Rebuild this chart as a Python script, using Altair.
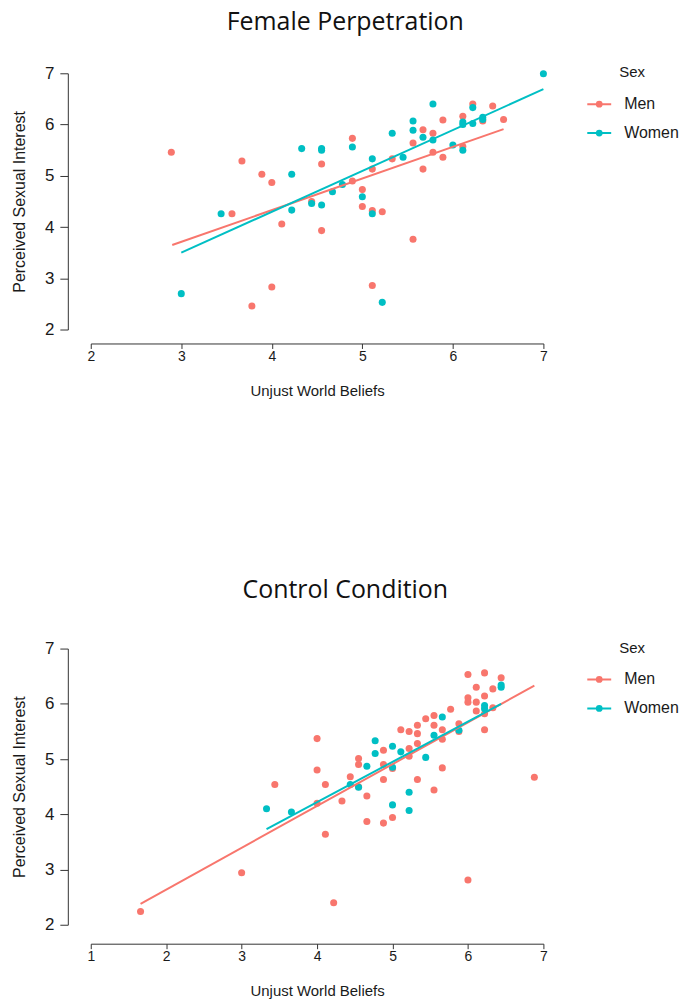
import altair as alt
import pandas as pd

# ---------------- data ----------------
sexes = ["Men", "Women"]
colors = ["#F8766D", "#00BFC4"]

# Female Perpetration
fp_men_x = [2.89, 3.67, 3.89, 4.00, 3.56, 4.11, 4.55, 4.55, 4.44, 4.89, 4.89, 4.00, 3.78,
            5.00, 5.00, 5.11, 5.22, 5.11, 5.33, 5.56, 5.67, 5.78, 5.67, 5.78, 5.89, 5.89,
            6.11, 6.11, 6.22, 6.33, 6.44, 6.56, 5.56, 5.11]
fp_men_y = [5.46, 5.29, 5.03, 4.87, 4.26, 4.06, 5.23, 3.93, 4.50, 5.73, 4.90, 2.83, 2.46,
            4.73, 4.40, 4.32, 4.30, 5.13, 5.33, 5.64, 5.90, 5.83, 5.13, 5.46, 6.09, 5.36,
            6.16, 5.57, 6.40, 6.07, 6.36, 6.10, 3.76, 2.86]
fp_women_x = [3.44, 3.00, 4.33, 4.55, 4.55, 4.22, 4.22, 4.44, 4.55, 4.67, 4.78, 4.89, 5.00,
              5.11, 5.11, 5.45, 5.33, 5.56, 5.56, 5.67, 5.78, 5.78, 6.00, 6.11, 6.11, 6.11,
              6.22, 6.22, 6.33, 6.33, 7.00, 5.22]
fp_women_y = [4.26, 2.70, 5.53, 5.53, 5.50, 5.03, 4.33, 4.46, 4.43, 4.69, 4.83, 5.56, 4.59,
              5.33, 4.26, 5.36, 5.83, 6.07, 5.89, 5.75, 5.70, 6.40, 5.60, 6.05, 6.00, 5.50,
              6.33, 6.02, 6.14, 6.10, 6.99, 2.53]
fp_fit_men_x = [2.90, 6.56]
fp_fit_men_y = [3.65, 5.91]
fp_fit_women_x = [3.00, 7.00]
fp_fit_women_y = [3.50, 6.69]

# Control Condition
cc_men_x = [1.66, 3.00, 3.44, 4.00, 4.00, 4.11, 4.00, 4.11, 4.22,
            4.33, 4.44, 4.55, 4.55, 4.55, 4.66, 4.66, 4.88, 4.88, 4.88, 4.88, 5.00, 5.00,
            5.11, 5.22, 5.22, 5.22, 5.33, 5.33, 5.33, 5.33, 5.44, 5.55, 5.55, 5.55, 5.66,
            5.66, 5.66, 5.77, 5.88, 5.88, 6.00, 6.00, 6.00, 6.11, 6.11, 6.11, 6.22, 6.22,
            6.22, 6.22, 6.33, 6.33, 6.44, 6.00, 6.88]
cc_men_y = [2.24, 2.94, 4.54, 5.37, 4.80, 4.54, 4.20, 3.64, 2.40,
            4.24, 4.68, 5.01, 4.90, 4.50, 4.33, 3.87, 5.16, 4.90, 4.63, 3.84, 3.94, 4.83,
            5.53, 5.50, 5.19, 5.05, 5.61, 5.46, 5.28, 4.63, 5.73, 5.79, 5.61, 4.44, 5.53,
            5.36, 4.84, 5.90, 5.64, 5.50, 6.53, 6.11, 6.03, 6.30, 6.03, 5.87, 6.56, 6.14,
            5.82, 5.53, 6.27, 5.93, 6.47, 2.81, 4.67]
cc_women_x = [3.33, 3.66, 4.44, 4.55, 4.66, 4.77, 4.77, 5.00, 5.00, 5.00, 5.11, 5.22, 5.22,
              5.44, 5.55, 5.66, 5.88, 6.22, 6.22, 6.44, 6.44]
cc_women_y = [4.10, 4.04, 4.54, 4.49, 4.87, 5.33, 5.10, 5.23, 4.85, 4.17, 5.13, 4.40, 4.07,
              5.03, 5.43, 5.76, 5.52, 5.97, 5.91, 6.34, 6.30]
cc_fit_men_x = [1.66, 6.88]
cc_fit_men_y = [2.38, 6.33]
cc_fit_women_x = [3.33, 6.44]
cc_fit_women_y = [3.73, 6.00]

fp_xticks = [2, 3, 4, 5, 6, 7]
cc_xticks = [1, 2, 3, 4, 5, 6, 7]
yticks = [2, 3, 4, 5, 6, 7]


def frame(mx, my, wx, wy):
    return pd.concat([
        pd.DataFrame({"x": mx, "y": my, "Sex": "Men"}),
        pd.DataFrame({"x": wx, "y": wy, "Sex": "Women"}),
    ], ignore_index=True)


LABEL_FONT = "Liberation Sans"
# line with a dot, drawn with concentric rings so that a stroke alone fills it
SYMBOL = ("M-1,0L1,0"
          "M0.2,0A0.2,0.2,0,1,1,-0.2,0A0.2,0.2,0,1,1,0.2,0Z"
          "M0.12,0A0.12,0.12,0,1,1,-0.12,0A0.12,0.12,0,1,1,0.12,0Z"
          "M0.04,0A0.04,0.04,0,1,1,-0.04,0A0.04,0.04,0,1,1,0.04,0Z")


def make_legend():
    return alt.Legend(title="Sex", symbolType=SYMBOL, symbolSize=576,
                      symbolStrokeWidth=2, symbolOpacity=1, labelOffset=12,
                      labelFont=LABEL_FONT, labelFontSize=16, labelColor="#1a1a1a",
                      titleFont=LABEL_FONT, titleFontSize=15, titleFontWeight="normal",
                      titleColor="#1a1a1a", titleAnchor="middle", titlePadding=11,
                      rowPadding=8, orient="none", legendX=497, legendY=-8)


def panel(pts, fit, xticks, title, height, xoffset, toffset):
    cscale = alt.Scale(domain=sexes, range=colors)
    xenc = alt.X("x:Q", scale=alt.Scale(domain=[xticks[0], xticks[-1]], nice=False, zero=False),
                 axis=alt.Axis(title="Unjust World Beliefs", values=xticks, grid=False,
                               format="d", offset=xoffset, tickSize=5, labelPadding=1,
                               labelFontSize=14, titleFontSize=15, titlePadding=20,
                               labelFont=LABEL_FONT, titleFont=LABEL_FONT,
                               titleFontWeight="normal", domainColor="#333",
                               tickColor="#333", labelColor="#1a1a1a",
                               titleColor="#1a1a1a", labelFlush=False))
    yenc = alt.Y("y:Q", scale=alt.Scale(domain=[2, 7], nice=False, zero=False),
                 axis=alt.Axis(title="Perceived Sexual Interest", values=yticks, grid=False,
                               format="d", offset=23, tickSize=8, labelPadding=6,
                               labelFontSize=17, titleFontSize=16, titlePadding=17,
                               labelFont=LABEL_FONT, titleFont=LABEL_FONT,
                               titleFontWeight="normal", domainColor="#333",
                               tickColor="#333", labelColor="#1a1a1a",
                               titleColor="#1a1a1a", labelFlush=False))
    points = alt.Chart(pts).mark_circle(size=50, opacity=1).encode(
        x=xenc, y=yenc, color=alt.Color("Sex:N", scale=cscale, legend=make_legend()))
    lines = alt.Chart(fit).mark_line(strokeWidth=2).encode(
        x="x:Q", y="y:Q", color=alt.Color("Sex:N", scale=cscale, legend=make_legend()))
    return alt.layer(points, lines).properties(
        width=454, height=height,
        title=alt.TitleParams(title, font="Open Sans", fontSize=25, fontWeight="normal",
                              anchor="middle", frame="bounds", offset=toffset, color="#111"))


top = panel(frame(fp_men_x, fp_men_y, fp_women_x, fp_women_y),
            frame(fp_fit_men_x, fp_fit_men_y, fp_fit_women_x, fp_fit_women_y),
            fp_xticks, "Female Perpetration", 257, 14, 29)
bottom = panel(frame(cc_men_x, cc_men_y, cc_women_x, cc_women_y),
               frame(cc_fit_men_x, cc_fit_men_y, cc_fit_women_x, cc_fit_women_y),
               cc_xticks, "Control Condition", 277, 19, 37)

chart = alt.vconcat(top, bottom, spacing=180).resolve_scale(
    color="independent", x="independent", y="independent"
).properties(
    padding={"left": 3, "top": 1, "right": 0, "bottom": 2}
).configure_view(stroke=None)

chart.save("out.html", embed_options={"renderer": "svg", "actions": False})
